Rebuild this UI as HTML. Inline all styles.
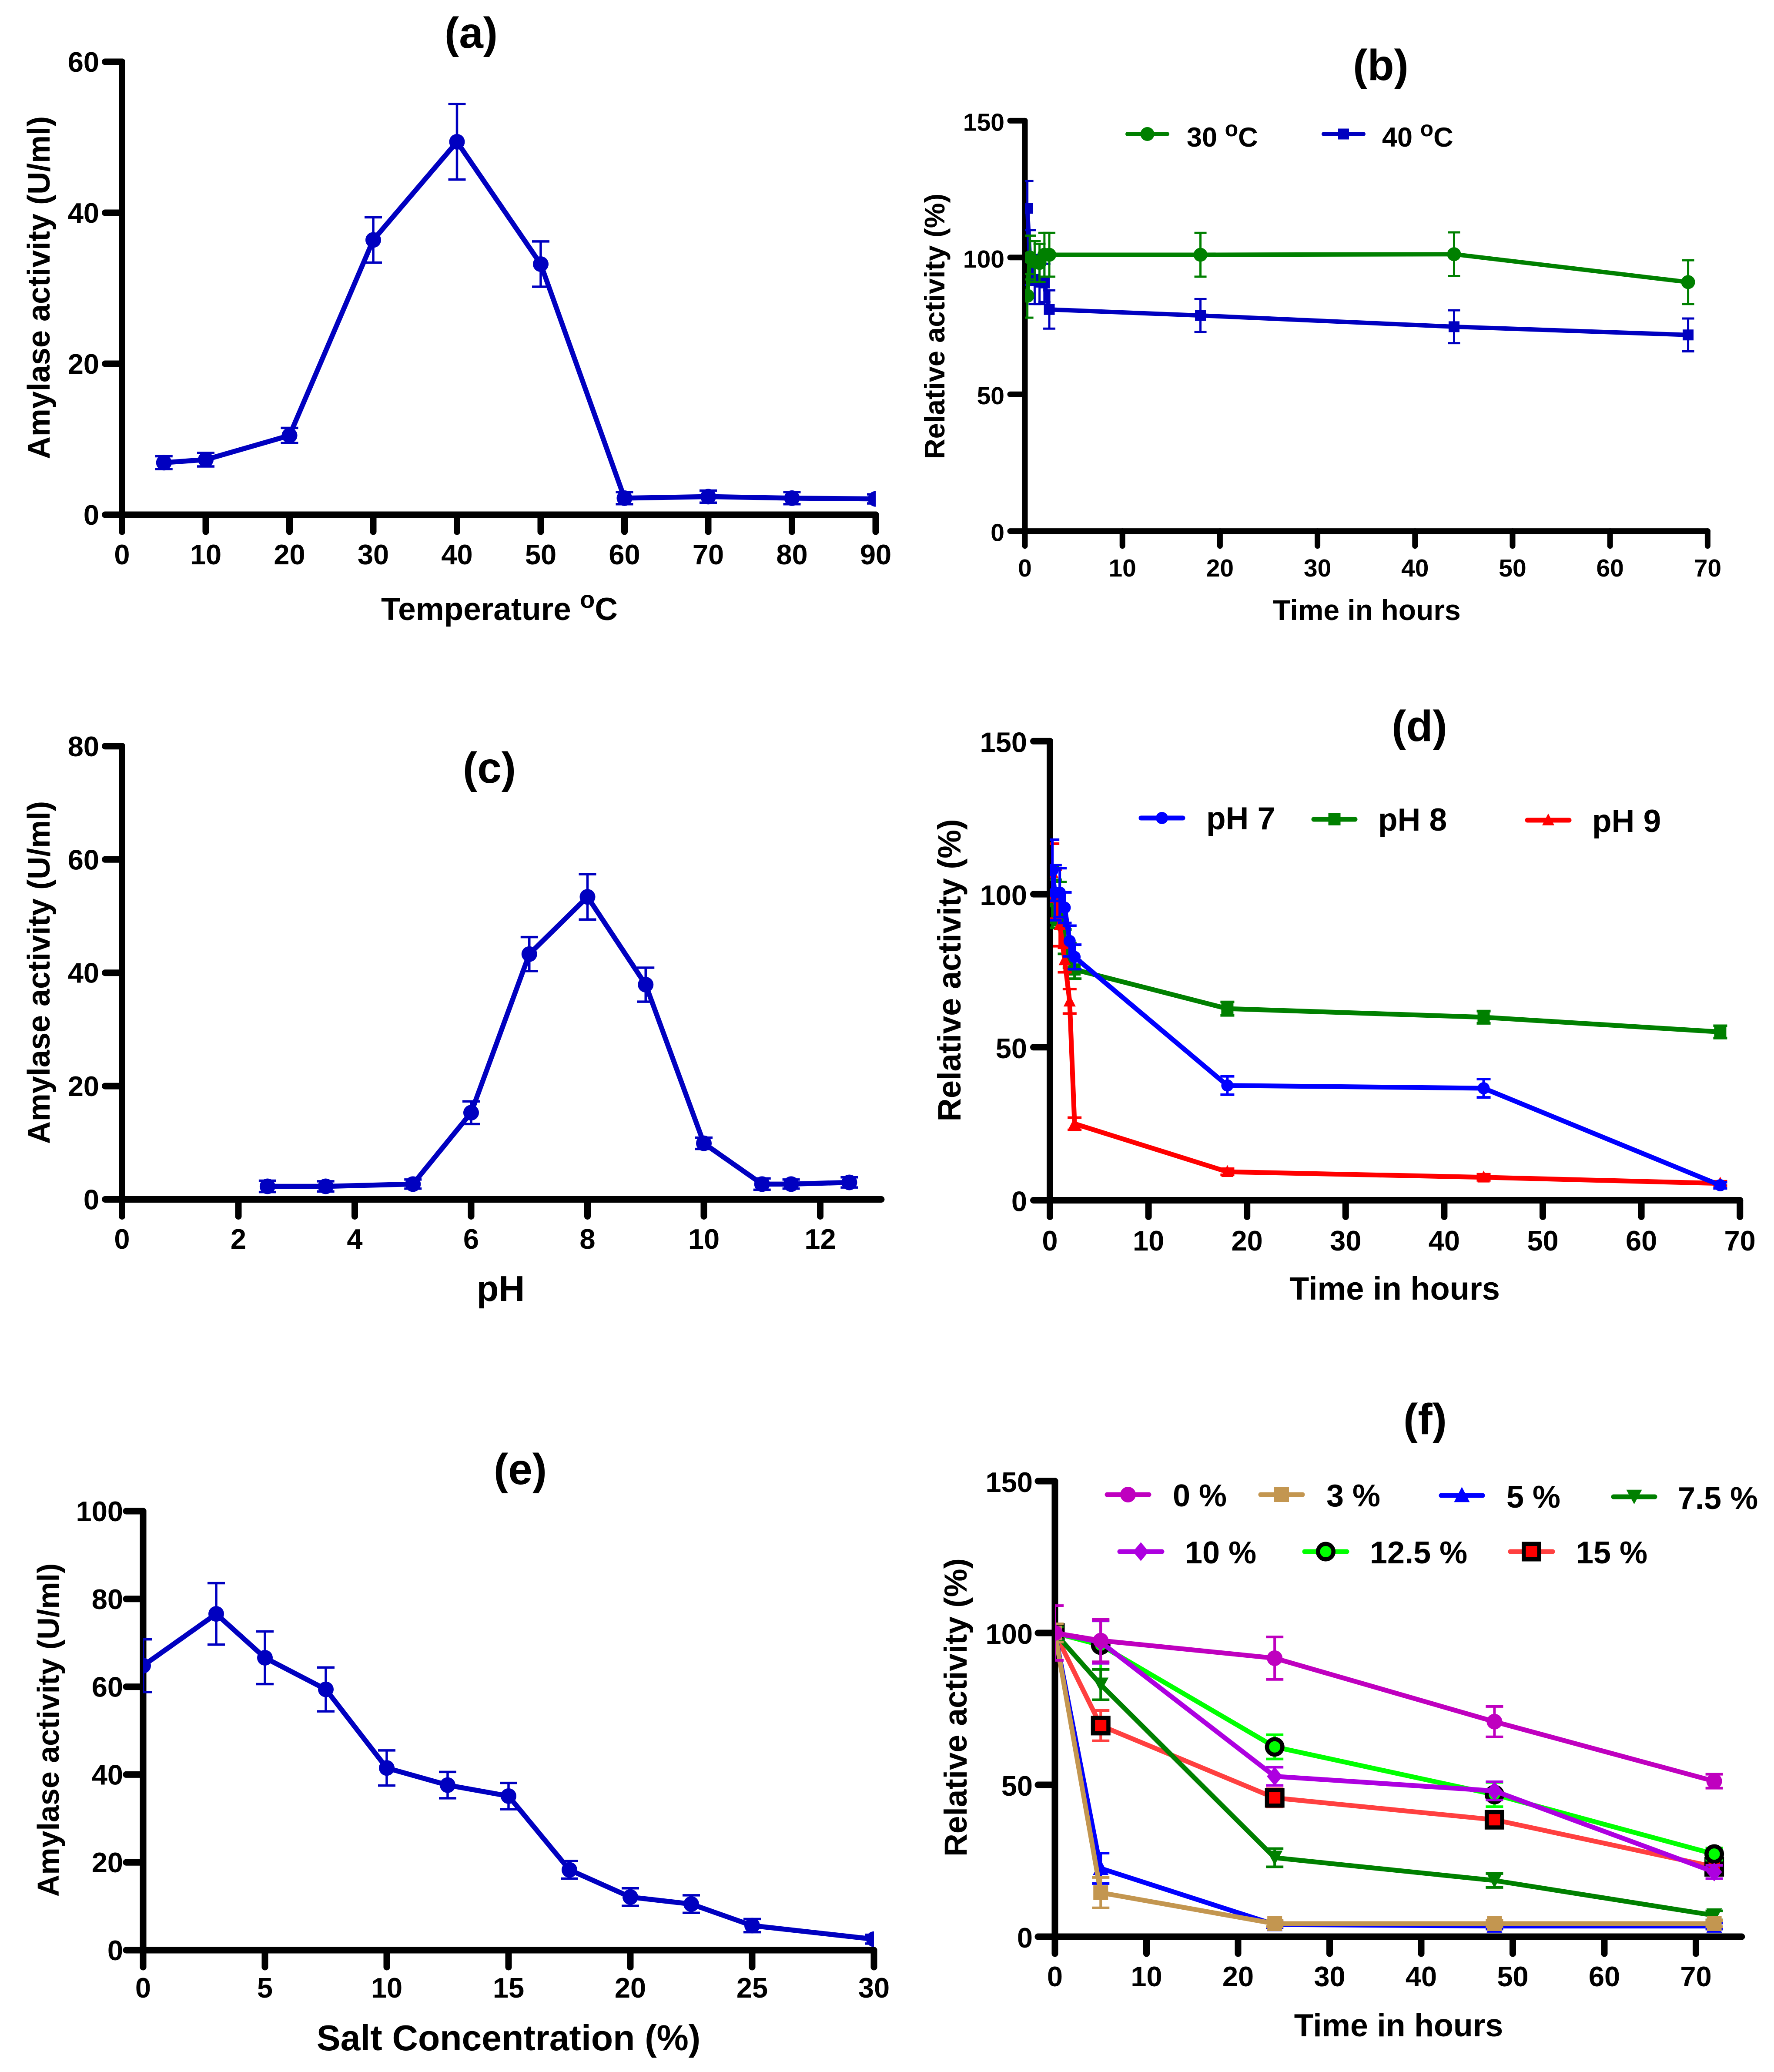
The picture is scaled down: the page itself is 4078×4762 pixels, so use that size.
<!DOCTYPE html>
<html lang="en">
<head>
<meta charset="utf-8">
<title>Amylase activity and stability panels</title>
<style>
html,body{margin:0;padding:0;background:#fff;}
svg{display:block;}
text{font-family:"Liberation Sans",Arial,sans-serif;font-weight:700;fill:#000;}
</style>
</head>
<body>
<svg id="fig" xmlns="http://www.w3.org/2000/svg" width="4078" height="4762" viewBox="0 0 4078 4762">
<rect x="0" y="0" width="4078" height="4762" fill="#fff"/>

<text x="1083" y="110" font-size="100" text-anchor="middle">(a)</text>
<text x="1148" y="1425" font-size="73" text-anchor="middle">Temperature <tspan font-size="56" dy="-28">o</tspan><tspan dy="28">C</tspan></text>
<text transform="translate(114,661) rotate(-90)" font-size="72" text-anchor="middle">Amylase activity (U/ml)</text>

<text x="3174" y="184" font-size="100" text-anchor="middle">(b)</text>
<text x="3142" y="1425" font-size="66" text-anchor="middle">Time in hours</text>
<text transform="translate(2171,750) rotate(-90)" font-size="65" text-anchor="middle">Relative activity (%)</text>
<text x="2728" y="337" font-size="63">30 <tspan font-size="50" dy="-24">o</tspan><tspan dy="24">C</tspan></text>
<text x="3177" y="337" font-size="63">40 <tspan font-size="50" dy="-24">o</tspan><tspan dy="24">C</tspan></text>

<text x="1125" y="1799" font-size="100" text-anchor="middle">(c)</text>
<text x="1151" y="2990" font-size="83" text-anchor="middle">pH</text>
<text transform="translate(114,2235) rotate(-90)" font-size="72" text-anchor="middle">Amylase activity (U/ml)</text>

<text x="3263" y="1703" font-size="100" text-anchor="middle">(d)</text>
<text x="3206" y="2987" font-size="74" text-anchor="middle">Time in hours</text>
<text transform="translate(2208,2230) rotate(-90)" font-size="74" text-anchor="middle">Relative activity (%)</text>
<text x="2773" y="1906" font-size="73">pH 7</text>
<text x="3168" y="1909" font-size="73">pH 8</text>
<text x="3660" y="1912" font-size="73">pH 9</text>

<text x="1196" y="3411" font-size="100" text-anchor="middle">(e)</text>
<text x="1169" y="4712" font-size="82.3" text-anchor="middle">Salt Concentration (%)</text>
<text transform="translate(135,3976) rotate(-90)" font-size="70" text-anchor="middle">Amylase activity (U/ml)</text>

<text x="3276" y="3296" font-size="100" text-anchor="middle">(f)</text>
<text x="3215" y="4680" font-size="73.5" text-anchor="middle">Time in hours</text>
<text transform="translate(2222,3924) rotate(-90)" font-size="73" text-anchor="middle">Relative activity (%)</text>
<text x="2696" y="3462" font-size="72">0 %</text>
<text x="3049" y="3462" font-size="72">3 %</text>
<text x="3463" y="3465" font-size="72">5 %</text>
<text x="3857" y="3468" font-size="72">7.5 %</text>
<text x="2724" y="3593" font-size="72">10 %</text>
<text x="3149" y="3593" font-size="72">12.5 %</text>
<text x="3623" y="3593" font-size="72">15 %</text>
</svg>

<script>
// Panel (a): temperature
const tempX = [5, 10, 20, 30, 40, 50, 60, 70, 80, 90];
const tempActivity = [6.9, 7.3, 10.5, 36.4, 49.4, 33.2, 2.2, 2.4, 2.2, 2.1];
const tempError = [0.85, 0.9, 1.0, 3.0, 5.0, 3.0, 0.8, 0.8, 0.8, 0.6];
const tempXTicks = [0, 10, 20, 30, 40, 50, 60, 70, 80, 90];
const tempYTicks = [0, 20, 40, 60];

// Panel (b): thermal stability
const thermalTime = [0.25, 0.5, 1, 1.5, 2, 2.5, 18, 44, 68];
const thermal30 = [86, 100, 98.5, 98, 101, 101, 101, 101.2, 91];
const thermal30Error = [8, 8, 7.5, 7, 8, 8, 8, 8, 8];
const thermal40 = [118, 100, 92, 91, 90.7, 81, 78.8, 74.7, 71.7];
const thermal40Error = [10, 10, 9, 8, 7, 7, 6, 6, 6];
const thermalXTicks = [0, 10, 20, 30, 40, 50, 60, 70];
const thermalYTicks = [0, 50, 100, 150];

// Panel (c): pH
const phX = [2.5, 3.5, 5, 6, 7, 8, 9, 10, 11, 11.5, 12.5];
const phActivity = [2.3, 2.3, 2.7, 15.3, 43.3, 53.4, 37.9, 9.9, 2.7, 2.7, 3];
const phError = [1, 0.9, 0.8, 2, 3, 4, 3, 1, 1, 0.8, 0.9];
const phXTicks = [0, 2, 4, 6, 8, 10, 12];
const phYTicks = [0, 20, 40, 60, 80];

// Panel (d): pH stability
const phStabTime = [0.25, 0.5, 1, 1.5, 2, 2.5, 18, 44, 68];
const ph7Values = [107.8, 100.5, 100.5, 95.6, 84.7, 79.5, 37.5, 36.6, 4.9];
const ph7Error = [10, 9, 8, 5, 5, 4, 3, 3, 1];
const ph8Values = [99, 97.7, 97, 84.5, 80, 75.4, 62.6, 59.8, 55];
const ph8Error = [10, 7, 7, 4, 4, 3, 2.2, 2, 2];
const ph9Values = [107, 100, 90, 78.5, 65, 25, 9.3, 7.5, 5.5];
const ph9Error = [9.5, 8, 7, 4, 4, 2, 1, 1, 0.7];
const phStabXTicks = [0, 10, 20, 30, 40, 50, 60, 70];
const phStabYTicks = [0, 50, 100, 150];

// Panel (e): salt concentration
const saltX = [0, 3, 5, 7.5, 10, 12.5, 15, 17.5, 20, 22.5, 25, 30];
const saltActivity = [64.8, 76.6, 66.6, 59.4, 41.5, 37.6, 35.1, 18.3, 12.1, 10.5, 5.6, 2.5];
const saltError = [6, 7, 6, 5, 4, 3, 3, 2, 2, 2, 1.5, 1];
const saltXTicks = [0, 5, 10, 15, 20, 25, 30];
const saltYTicks = [0, 20, 40, 60, 80, 100];

// Panel (f): salt stability
const saltStabTime = [0, 5, 24, 48, 72];
const salt0 = [100, 97.5, 91.7, 70.8, 51.2];
const salt0Error = [9, 7, 7, 5, 2.3];
const salt3 = [100, 14.5, 4.3, 4.3, 4.3];
const salt3Error = [3, 5, 1, 1, 1];
const salt5 = [100, 22.5, 4, 3.5, 3.5];
const salt5Error = [3, 5, 1, 1, 1];
const salt7p5 = [100, 83, 26, 18.5, 7];
const salt7p5Error = [2, 5, 3, 2.3, 1.5];
const salt10 = [100, 97, 52.8, 48, 21.3];
const salt10Error = [2, 7, 3, 3, 2.2];
const salt12p5 = [100, 96, 62.5, 46.8, 27.2];
const salt12p5Error = [2, 8, 4, 4, 2];
const salt15 = [100, 69.5, 45.7, 38.5, 23];
const salt15Error = [2, 5, 3, 2, 2];
const saltStabXTicks = [0, 10, 20, 30, 40, 50, 60, 70];
const saltStabYTicks = [0, 50, 100, 150];

const svg = document.getElementById('fig');
const NS = 'http://www.w3.org/2000/svg';

function mk(tag, attrs, parent) {
  const el = document.createElementNS(NS, tag);
  for (const k in attrs) el.setAttribute(k, attrs[k]);
  parent.appendChild(el);
  return el;
}

function drawMarker(parent, kind, x, y, r, color, slug) {
  let m;
  if (kind === 'circle') {
    m = mk('circle', {cx: x, cy: y, r: r, fill: color}, parent);
  } else if (kind === 'square') {
    m = mk('rect', {x: x - r, y: y - r, width: 2 * r, height: 2 * r, fill: color}, parent);
  } else if (kind === 'triangle') {
    m = mk('polygon', {points: `${x},${y - r * 1.1} ${x + r},${y + r * 0.85} ${x - r},${y + r * 0.85}`, fill: color}, parent);
  } else if (kind === 'triangle-down') {
    m = mk('polygon', {points: `${x},${y + r * 0.95} ${x + r},${y - r * 0.9} ${x - r},${y - r * 0.9}`, fill: color}, parent);
  } else if (kind === 'diamond') {
    m = mk('polygon', {points: `${x},${y - r * 1.2} ${x + r},${y} ${x},${y + r * 1.2} ${x - r},${y}`, fill: color}, parent);
  } else if (kind === 'ring') {
    m = mk('circle', {cx: x, cy: y, r: r - 4.75, fill: color, stroke: '#000', 'stroke-width': 9.5}, parent);
  } else {
    m = mk('rect', {x: x - r + 4.75, y: y - r + 4.75, width: 2 * r - 9.5, height: 2 * r - 9.5, fill: color, stroke: '#000', 'stroke-width': 9.5}, parent);
  }
  
  
}

function drawPanel(id, g, xTicks, yTicks, series) {
  const xOf = v => g.x0 + v * g.xUnit;
  const yOf = v => g.y0 - v * g.yUnit;
  const root = mk('g', {}, svg);
  
  

  const axes = mk('g', {stroke: '#000', 'stroke-width': g.axisW, 'stroke-linecap': 'round', fill: 'none'}, root);
  
  
  const xAxis = mk('line', {x1: g.x0, y1: g.y0, x2: xOf(g.xEnd), y2: g.y0}, axes);
  
  
  const yAxis = mk('line', {x1: g.x0, y1: g.y0, x2: g.x0, y2: yOf(yTicks[yTicks.length - 1])}, axes);
  
  

  xTicks.forEach(v => {
    const t = mk('line', {x1: xOf(v), y1: g.y0, x2: xOf(v), y2: g.y0 + g.tickLen}, axes);
    
    
    const lb = mk('text', {x: xOf(v), y: g.xLabelY, 'font-size': g.tickFont, 'text-anchor': 'middle'}, root);
    lb.textContent = String(v);
    
    
  });
  yTicks.forEach(v => {
    const t = mk('line', {x1: g.x0, y1: yOf(v), x2: g.x0 - g.tickLen, y2: yOf(v)}, axes);
    
    
    const lb = mk('text', {x: g.yLabelX, y: yOf(v) + g.yLabelDy, 'font-size': g.tickFont, 'text-anchor': 'end'}, root);
    lb.textContent = String(v);
    
    
  });

  const clip = mk('clipPath', {id: 'clip-' + id}, root);
  mk('rect', {x: g.x0, y: 0, width: xOf(g.xEnd) - g.x0, height: 4762}, clip);
  const plot = mk('g', {'clip-path': 'url(#clip-' + id + ')'}, root);
  
  

  series.forEach(s => {
    const sg = mk('g', {}, plot);
    
    
    s.xs.forEach((xv, i) => {
      const cx = xOf(xv);
      const hi = yOf(s.ys[i] + s.errs[i]);
      const lo = yOf(s.ys[i] - s.errs[i]);
      const eb = mk('path', {
        d: `M${cx} ${hi}V${lo}M${cx - g.capHalf} ${hi}H${cx + g.capHalf}M${cx - g.capHalf} ${lo}H${cx + g.capHalf}`,
        stroke: s.line, 'stroke-width': g.errW, fill: 'none'
      }, sg);
      
      
    });
    const pts = s.xs.map((xv, i) => xOf(xv) + ',' + yOf(s.ys[i])).join(' ');
    const pl = mk('polyline', {points: pts, fill: 'none', stroke: s.line, 'stroke-width': g.lineW, 'stroke-linejoin': 'miter'}, sg);
    
    
    s.xs.forEach((xv, i) => {
      drawMarker(sg, s.marker, xOf(xv), yOf(s.ys[i]), s.r, s.fill, 'point-' + s.slug + '-' + xv);
    });
  });
}

function legendSwatch(slug, x1, x2, y, lineW, line, marker, r, fill) {
  const g = mk('g', {}, svg);
  
  
  const l = mk('line', {x1: x1, y1: y, x2: x2, y2: y, stroke: line, 'stroke-width': lineW, 'stroke-linecap': 'round'}, g);
  
  
  drawMarker(g, marker, (x1 + x2) / 2, y, r, fill, 'legend-marker-' + slug);
}

const DARK_BLUE = '#0000c0';
const GREEN = '#008000';
const BLUE = '#0000ff';
const RED = '#ff0000';
const MAGENTA = '#bf00bf';
const TAN = '#c39650';
const PURPLE = '#ad00e0';

drawPanel('a',
  {x0: 280.5, xUnit: 19.25, y0: 1183, yUnit: 17.35, xEnd: 90, axisW: 15, tickLen: 39, tickFont: 65,
   xLabelY: 1297, yLabelX: 228, yLabelDy: 23, capHalf: 20, errW: 5.5, lineW: 11.5},
  tempXTicks, tempYTicks,
  [{slug: 'temperature', xs: tempX, ys: tempActivity, errs: tempError, line: DARK_BLUE, fill: DARK_BLUE, marker: 'circle', r: 18}]);

drawPanel('b',
  {x0: 2356, xUnit: 22.42, y0: 1220.6, yUnit: 6.288, xEnd: 70, axisW: 13, tickLen: 34, tickFont: 57,
   xLabelY: 1325, yLabelX: 2309, yLabelDy: 23, capHalf: 14, errW: 5, lineW: 10},
  thermalXTicks, thermalYTicks,
  [{slug: '40c', xs: thermalTime, ys: thermal40, errs: thermal40Error, line: DARK_BLUE, fill: DARK_BLUE, marker: 'square', r: 12.5},
   {slug: '30c', xs: thermalTime, ys: thermal30, errs: thermal30Error, line: GREEN, fill: GREEN, marker: 'circle', r: 16}]);

drawPanel('c',
  {x0: 280.5, xUnit: 133.75, y0: 2756.5, yUnit: 13.02, xEnd: 13.05, axisW: 15, tickLen: 39, tickFont: 65,
   xLabelY: 2870, yLabelX: 228, yLabelDy: 23, capHalf: 20, errW: 5.5, lineW: 11.5},
  phXTicks, phYTicks,
  [{slug: 'ph', xs: phX, ys: phActivity, errs: phError, line: DARK_BLUE, fill: DARK_BLUE, marker: 'circle', r: 18}]);

drawPanel('d',
  {x0: 2413.5, xUnit: 22.66, y0: 2758.5, yUnit: 7.034, xEnd: 70, axisW: 15, tickLen: 38, tickFont: 65,
   xLabelY: 2874, yLabelX: 2361, yLabelDy: 25, capHalf: 16, errW: 6, lineW: 11},
  phStabXTicks, phStabYTicks,
  [{slug: 'ph-8', xs: phStabTime, ys: ph8Values, errs: ph8Error, line: GREEN, fill: GREEN, marker: 'square', r: 14},
   {slug: 'ph-9', xs: phStabTime, ys: ph9Values, errs: ph9Error, line: RED, fill: RED, marker: 'triangle', r: 14},
   {slug: 'ph-7', xs: phStabTime, ys: ph7Values, errs: ph7Error, line: BLUE, fill: BLUE, marker: 'circle', r: 14}]);

drawPanel('e',
  {x0: 329, xUnit: 56, y0: 4482, yUnit: 10.09, xEnd: 30, axisW: 15, tickLen: 39, tickFont: 65,
   xLabelY: 4591, yLabelX: 283, yLabelDy: 23, capHalf: 20, errW: 5.5, lineW: 11.5},
  saltXTicks, saltYTicks,
  [{slug: 'salt', xs: saltX, ys: saltActivity, errs: saltError, line: DARK_BLUE, fill: DARK_BLUE, marker: 'circle', r: 18}]);

drawPanel('f',
  {x0: 2425, xUnit: 21.05, y0: 4451, yUnit: 6.98, xEnd: 75, axisW: 15, tickLen: 39, tickFont: 65,
   xLabelY: 4565, yLabelX: 2374, yLabelDy: 25, capHalf: 20, errW: 6, lineW: 11},
  saltStabXTicks, saltStabYTicks,
  [{slug: 'salt-15', xs: saltStabTime, ys: salt15, errs: salt15Error, line: '#ff4040', fill: '#ff0000', marker: 'boxed', r: 22.5},
   {slug: 'salt-12-5', xs: saltStabTime, ys: salt12p5, errs: salt12p5Error, line: '#00ff00', fill: '#00ff00', marker: 'ring', r: 22.5},
   {slug: 'salt-10', xs: saltStabTime, ys: salt10, errs: salt10Error, line: PURPLE, fill: PURPLE, marker: 'diamond', r: 18},
   {slug: 'salt-7-5', xs: saltStabTime, ys: salt7p5, errs: salt7p5Error, line: GREEN, fill: GREEN, marker: 'triangle-down', r: 18},
   {slug: 'salt-5', xs: saltStabTime, ys: salt5, errs: salt5Error, line: BLUE, fill: BLUE, marker: 'triangle', r: 18},
   {slug: 'salt-3', xs: saltStabTime, ys: salt3, errs: salt3Error, line: TAN, fill: TAN, marker: 'square', r: 17},
   {slug: 'salt-0', xs: saltStabTime, ys: salt0, errs: salt0Error, line: MAGENTA, fill: MAGENTA, marker: 'circle', r: 18}]);

legendSwatch('30c', 2592, 2683, 308, 10, GREEN, 'circle', 16, GREEN);
legendSwatch('40c', 3043, 3134, 308, 10, DARK_BLUE, 'square', 12.5, DARK_BLUE);

legendSwatch('ph7', 2623, 2719, 1880, 11, BLUE, 'circle', 14, BLUE);
legendSwatch('ph8', 3020, 3115, 1883, 11, GREEN, 'square', 14, GREEN);
legendSwatch('ph9', 3511, 3607, 1885, 11, RED, 'triangle', 14, RED);

legendSwatch('0-percent', 2545, 2641, 3435, 11, MAGENTA, 'circle', 18, MAGENTA);
legendSwatch('3-percent', 2898, 2994, 3435, 11, TAN, 'square', 17, TAN);
legendSwatch('5-percent', 3313, 3408, 3437, 11, BLUE, 'triangle', 18, BLUE);
legendSwatch('7-5-percent', 3709, 3804, 3440, 11, GREEN, 'triangle-down', 18, GREEN);
legendSwatch('10-percent', 2574, 2671, 3566, 11, PURPLE, 'diamond', 18, PURPLE);
legendSwatch('12-5-percent', 2999, 3096, 3566, 11, '#00ff00', 'ring', 22.5, '#00ff00');
legendSwatch('15-percent', 3472, 3569, 3566, 11, '#ff4040', 'boxed', 22.5, '#ff0000');
</script>
</body>
</html>
